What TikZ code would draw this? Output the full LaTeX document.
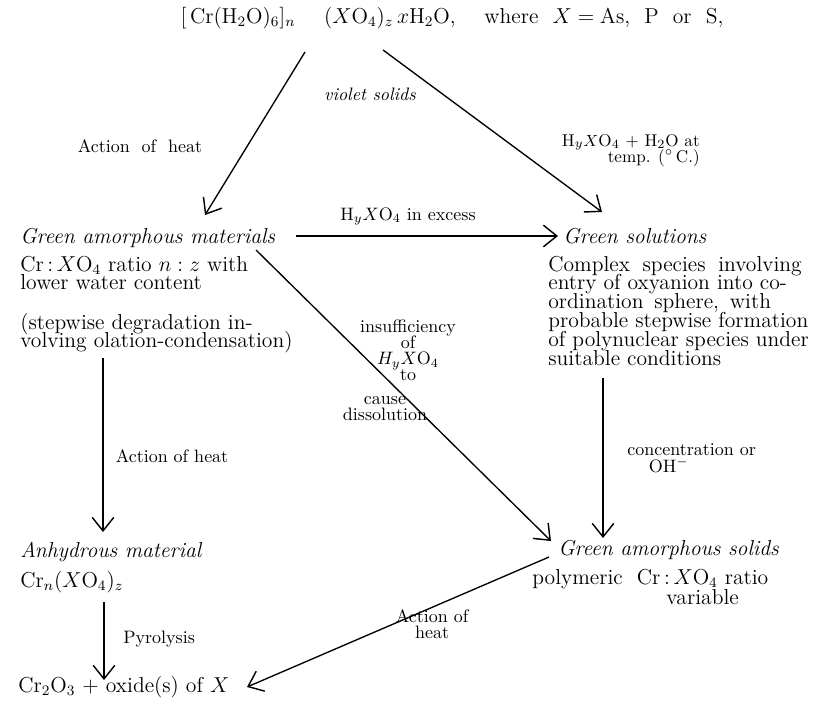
\documentclass[tikz,border=0pt]{standalone}
\usetikzlibrary{arrows.meta,calc}
\newcommand\vtl[1]{\vtop{\lineskiplimit=-\maxdimen\halign{##\hfil\cr#1\crcr}}}
\newcommand\vtc[1]{\vtop{\lineskiplimit=-\maxdimen\halign{\hfil##\hfil\cr#1\crcr}}}
\newcommand\vtr[1]{\vtop{\lineskiplimit=-\maxdimen\halign{\hfil##\cr#1\crcr}}}
\begin{document}
\begin{tikzpicture}[x=0.5556pt,y=-0.5556pt,
  txt/.style={inner sep=0pt,anchor=base west,font=\fontsize{12}{10.5}\selectfont},
  itl/.style={inner sep=0pt,anchor=base west,font=\fontsize{12}{10.5}\selectfont\itshape},
  lbl/.style={inner sep=0pt,anchor=base,font=\fontsize{10}{9}\selectfont},
  arr/.style={-{Straight Barb[length=7.5pt,width=12pt,line width=0.8pt]},line width=0.75pt}]
\useasboundingbox (0,0) rectangle (815,703);
% texts
\node[txt,anchor=base] (top) at (452,23) {$[\,\mathrm{Cr(H_2O)_6}]_n$\quad\ $(X\mathrm{O_4})_z\,x\mathrm{H_2O}$,\quad\ where\ \ $X=\mathrm{As}$,\ \ P\ \ or\ \ S,};
\node[lbl,font=\fontsize{10}{10}\selectfont\itshape] (violet) at (370,100) {violet solids};
\node[lbl] (heatA) at (140,152) {Action\ \ of\ \ heat};
\node[lbl,anchor=base east,font=\fontsize{9.5}{9.2}\selectfont] (hyx) at (700,146) {\vtr{H$_yX$O$_4$ + H$_2$O at\cr temp. ($^\circ$\,C.)}};
\node[itl] (gam) at (20,243) {Green amorphous materials};
\node[txt] (gamb) at (20,271) {\vtl{Cr\,:\,$X$O$_4$ ratio $n:z$ with\cr lower water content}};
\node[txt] (gamc) at (20,329) {\vtl{(stepwise degradation in-\cr volving olation-condensation)}};
\node[lbl] (excess) at (408,220) {H$_yX$O$_4$ in excess};
\node[itl] (gs) at (563,243) {Green solutions};
\node[txt] (cs) at (548,271) {\vtl{Complex\hspace{7pt}species\hspace{7pt}involving\cr entry of oxyanion into co-\cr ordination\hspace{6pt}sphere,\hspace{6pt}with\cr probable stepwise formation\cr of polynuclear species under\cr suitable conditions}};
\node[lbl] (insuf) at (408,332) {\vtc{insufficiency\cr of\cr $H_yX$O$_4$\cr to}};
\node[lbl] (cause) at (385,404) {\vtc{cause\cr dissolution}};
\node[lbl] (heatB) at (172,462) {Action of heat};
\node[lbl,anchor=base west,font=\fontsize{10}{9.6}\selectfont] (conc) at (627,455) {\vtl{concentration or\cr\hspace{1.2em}OH$^-$}};
\node[itl] (anh) at (20,557) {Anhydrous material};
\node[txt] (crn) at (20,587) {Cr$_n$($X$O$_4$)$_z$};
\node[lbl,anchor=base west] (pyro) at (123,643) {Pyrolysis};
\node[txt] (cro) at (18,692) {Cr$_2$O$_3$ + oxide(s) of $X$};
\node[itl] (gas) at (558,555) {Green amorphous solids};
\node[txt,font=\fontsize{12}{11.4}\selectfont] (poly) at (532,584) {polymeric\ \ \vtc{Cr\,:\,$X$O$_4$ ratio\cr variable}};
\node[lbl] (heatC) at (432,622) {\vtc{Action of\cr heat}};
% connector end points
\coordinate (a1s) at (305,52);  \coordinate (a1e) at (205,215);
\coordinate (a2s) at (383,50);  \coordinate (a2e) at (602,212);
\coordinate (a3s) at (296,236); \coordinate (a3e) at (558,236);
\coordinate (a4s) at (256,250); \coordinate (a4e) at (551,541);
\coordinate (a5s) at (103,358); \coordinate (a5e) at (103,532);
\coordinate (a6s) at (603,378); \coordinate (a6e) at (603,538);
\coordinate (a7s) at (104,602); \coordinate (a7e) at (104,680);
\coordinate (a8s) at (549,557); \coordinate (a8e) at (247,687);
\draw[arr] (a1s) -- (a1e);
\draw[arr] (a2s) -- (a2e);
\draw[arr] (a3s) -- (a3e);
\draw[arr] (a4s) -- (a4e);
\draw[arr] (a5s) -- (a5e);
\draw[arr] (a6s) -- (a6e);
\draw[arr] (a7s) -- (a7e);
\draw[arr] (a8s) -- (a8e);
\end{tikzpicture}
\end{document}
